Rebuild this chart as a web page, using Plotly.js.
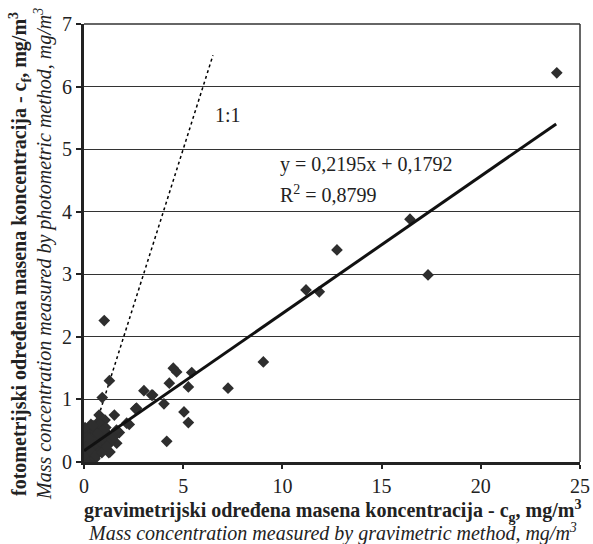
<!DOCTYPE html>
<html>
<head>
<meta charset="utf-8">
<script src="https://cdn.plot.ly/plotly-3.0.1.min.js"></script>
<style>html,body{margin:0;padding:0;background:#fff;}#chart{width:593px;height:544px;}</style>
</head>
<body>
<div id="chart"></div>
<script>
// Measured points: gravimetric (x) vs photometric (y), mg/m3
const gravimetric = [
  23.83, 16.43, 17.34, 12.75, 11.19, 11.86,
  9.04, 7.26, 4.50, 4.67, 5.43, 4.30, 5.26, 3.02, 3.46, 3.41, 4.03, 5.04, 5.26, 4.17,
  1.02, 1.28, 0.92, 1.53, 2.60, 2.65, 2.28, 2.15, 1.78, 1.64, 1.65, 1.31, 1.06, 0.72, 0.76,
  0.05, 0.10, 0.15, 0.20, 0.25, 0.30, 0.10, 0.05, 0.20, 0.30, 0.15, 0.25, 0.40, 0.50, 0.45,
  0.55, 0.60, 0.70, 0.65, 0.80, 0.90, 1.00, 1.10, 1.20, 0.85, 1.30, 1.40, 1.00, 0.75, 0.50,
  0.35, 0.20, 0.00, 0.00, 0.35, 0.60, 0.80, 1.10, 0.95, 1.25, 1.50, 0.40, 0.55, 0.70, 0.10,
  0.30, 0.60, 0.90, 1.15, 0.05, 0.45, 0.25
];
const photometric = [
  6.22, 3.88, 2.99, 3.39, 2.75, 2.72,
  1.60, 1.18, 1.50, 1.44, 1.43, 1.26, 1.20, 1.14, 1.07, 1.07, 0.93, 0.80, 0.63, 0.33,
  2.26, 1.30, 1.03, 0.75, 0.85, 0.86, 0.60, 0.62, 0.47, 0.51, 0.30, 0.16, 0.67, 0.64, 0.75,
  0.02, 0.05, 0.10, 0.08, 0.15, 0.20, 0.25, 0.30, 0.35, 0.45, 0.50, 0.55, 0.30, 0.25, 0.40,
  0.50, 0.35, 0.30, 0.20, 0.25, 0.30, 0.35, 0.40, 0.45, 0.45, 0.30, 0.35, 0.20, 0.15, 0.10,
  0.05, 0.00, 0.10, 0.45, 0.60, 0.55, 0.60, 0.55, 0.50, 0.15, 0.40, 0.15, 0.05, 0.45, 0.40,
  0.30, 0.10, 0.15, 0.25, 0.55, 0.58, 0.38
];
// Linear fit shown on chart
const fitSlope = 0.2195;
const fitIntercept = 0.1792;
const fitX = [0, 23.8];
const fitY = fitX.map(v => fitSlope * v + fitIntercept);
// 1:1 reference line
const unityX = [0, 6.5];
const unityY = [0, 6.5];
const xTicks = [0, 5, 10, 15, 20, 25];
const yTicks = [0, 1, 2, 3, 4, 5, 6, 7];

const xTitleBold = '<b>gravimetrijski određena masena koncentracija - c<sub>g</sub>, mg/m<sup>3</sup></b>';
const xTitleItalic = '<i>Mass concentration measured by gravimetric method, mg/m<sup>3</sup></i>';
const yTitleBold = '<b>fotometrijski određena masena koncentracija - c<sub>f</sub>, mg/m<sup>3</sup></b>';
const yTitleItalic = '<i>Mass concentration measured by photometric method, mg/m<sup>3</sup></i>';

const serif = 'Liberation Serif, Times New Roman, serif';
const ink = '#222';

const traces = [
  {x: unityX, y: unityY, mode: 'lines', line: {color: '#000', width: 1.5, dash: 'dot'}, hoverinfo: 'skip'},
  {x: gravimetric, y: photometric, mode: 'markers', marker: {symbol: 'diamond', size: 9, color: '#2e2e2e'}},
  {x: fitX, y: fitY, mode: 'lines', line: {color: '#111', width: 3}, hoverinfo: 'skip'}
];

const layout = {
  width: 593, height: 544,
  margin: {l: 84, r: 13, t: 24, b: 82},
  paper_bgcolor: '#fff', plot_bgcolor: '#fff',
  showlegend: false,
  font: {family: serif, color: ink, size: 20},
  xaxis: {
    range: [0, 25], tickvals: xTicks, ticktext: xTicks.map(String),
    showgrid: false, zeroline: false,
    showline: true, linecolor: ink, linewidth: 3,
    ticks: 'outside', ticklen: 4, tickwidth: 2, tickcolor: ink,
    tickfont: {family: serif, size: 20, color: ink}
  },
  yaxis: {
    range: [0, 7], tickvals: yTicks, ticktext: yTicks.map(String),
    showgrid: true, gridcolor: '#333', gridwidth: 1, zeroline: false,
    showline: true, linecolor: ink, linewidth: 3,
    ticks: 'outside', ticklen: 5, tickwidth: 2, tickcolor: ink,
    tickfont: {family: serif, size: 20, color: ink}
  },
  shapes: [
    {type: 'line', xref: 'paper', yref: 'paper', x0: 0, x1: 1, y0: 1, y1: 1, line: {color: '#333', width: 1.5}},
    {type: 'line', xref: 'paper', yref: 'paper', x0: 1, x1: 1, y0: 0, y1: 1, line: {color: '#333', width: 1.5}}
  ],
  annotations: [
    {x: 7.26, y: 5.55, xref: 'x', yref: 'y', text: '1:1', showarrow: false, xanchor: 'center', font: {family: serif, size: 20, color: ink}},
    {x: 9.8, y: 4.75, xref: 'x', yref: 'y', text: 'y = 0,2195x + 0,1792', showarrow: false, xanchor: 'left', font: {family: serif, size: 20, color: ink}},
    {x: 9.8, y: 4.28, xref: 'x', yref: 'y', text: 'R<sup>2</sup> = 0,8799', showarrow: false, xanchor: 'left', font: {family: serif, size: 20, color: ink}},
    {x: 0.5, y: 0, xref: 'paper', yref: 'paper', yshift: -49, text: xTitleBold, showarrow: false, xanchor: 'center', yanchor: 'middle', font: {family: serif, size: 20, color: ink}},
    {x: 0.5, y: 0, xref: 'paper', yref: 'paper', yshift: -70, text: xTitleItalic, showarrow: false, xanchor: 'center', yanchor: 'middle', font: {family: serif, size: 20, color: ink}},
    {x: 0, y: 0.475, xref: 'paper', yref: 'paper', xshift: -64, text: yTitleBold, textangle: -90, showarrow: false, xanchor: 'center', yanchor: 'middle', font: {family: serif, size: 20, color: ink}},
    {x: 0, y: 0.475, xref: 'paper', yref: 'paper', xshift: -40, text: yTitleItalic, textangle: -90, showarrow: false, xanchor: 'center', yanchor: 'middle', font: {family: serif, size: 20, color: ink}}
  ]
};

Plotly.newPlot('chart', traces, layout, {displayModeBar: false, staticPlot: true});
</script>
</body>
</html>
